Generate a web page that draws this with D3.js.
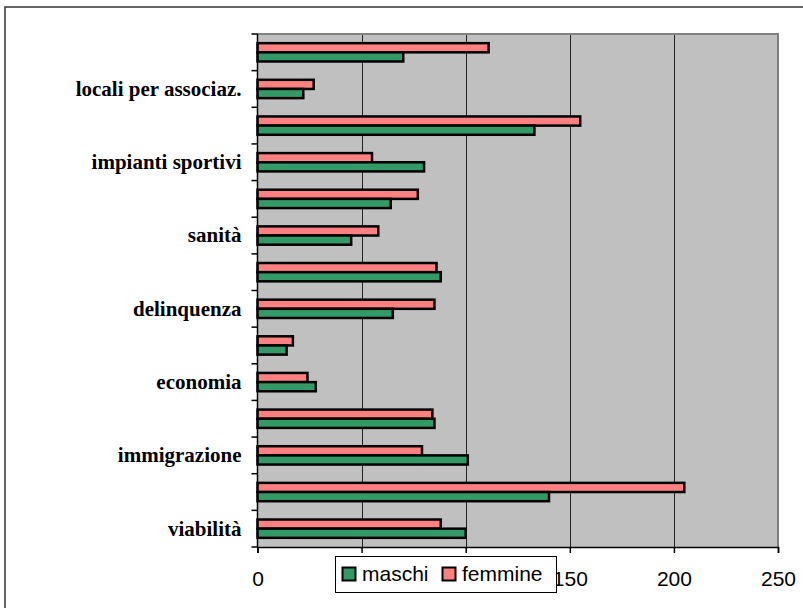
<!DOCTYPE html>
<html>
<head>
<meta charset="utf-8">
<script src="https://cdn.jsdelivr.net/npm/d3@7"></script>
<style>
  html, body { margin: 0; padding: 0; background: #fff; }
  svg { display: block; }
</style>
</head>
<body>
<script>
// Categories listed from bottom to top (Excel order); unlabeled categories have no visible name
const categories = ["viabilità", "", "immigrazione", "", "economia", "", "delinquenza", "", "sanità", "", "impianti sportivi", "", "locali per associaz.", ""];
const maschi  = [100, 140, 101, 85, 28, 14, 65, 88, 45, 64, 80, 133, 22, 70];
const femmine = [88, 205, 79, 84, 24, 17, 85, 86, 58, 77, 55, 155, 27, 111];
const seriesNames = ["maschi", "femmine"];
const seriesColors = ["#339966", "#ff8080"];
const xTicks = [0, 50, 100, 150, 200, 250];

const W = 803, H = 608;
const plot = { left: 257.5, right: 778, top: 34, bottom: 547 };
const legendBox = { x: 335.5, y: 556.5, w: 221, h: 36 };

const svg = d3.select("body").append("svg").attr("width", W).attr("height", H);

// outer chart frame
svg.append("rect").attr("x", 5).attr("y", 7).attr("width", W + 20).attr("height", H + 20)
  .attr("fill", "#fff").attr("stroke", "#333").attr("stroke-width", 1.5);

const x = d3.scaleLinear().domain([0, 250]).range([plot.left, plot.right]);
const idx = d3.range(categories.length);
const y = d3.scaleBand().domain(idx.slice().reverse()).range([plot.top, plot.bottom]).paddingInner(0).paddingOuter(0);
const bw = y.bandwidth();
const barH = bw * 0.25;

// plot background
svg.append("rect").attr("x", plot.left).attr("y", plot.top)
  .attr("width", plot.right - plot.left).attr("height", plot.bottom - plot.top)
  .attr("fill", "#c0c0c0");

// gridlines
svg.append("g").selectAll("line").data(xTicks.slice(1, -1)).join("line")
  .attr("x1", d => Math.round(x(d)) + 0.5).attr("x2", d => Math.round(x(d)) + 0.5)
  .attr("y1", plot.top).attr("y2", plot.bottom)
  .attr("stroke", "#222").attr("stroke-width", 1);

// plot border (top/right gray)
svg.append("path")
  .attr("d", `M${plot.left},${plot.top}H${plot.right}V${plot.bottom}`)
  .attr("fill", "none").attr("stroke", "#808080").attr("stroke-width", 2);

// bars
const rows = idx.map(i => ({ i, m: maschi[i], f: femmine[i] }));
const g = svg.append("g");
const center = i => y(i) + bw / 2;
g.selectAll("rect.f").data(rows).join("rect").attr("class", "f")
  .attr("x", x(0)).attr("y", d => center(d.i) - barH)
  .attr("width", d => x(d.f) - x(0)).attr("height", barH)
  .attr("fill", seriesColors[1]).attr("stroke", "#000").attr("stroke-width", 2.5);
g.selectAll("rect.m").data(rows).join("rect").attr("class", "m")
  .attr("x", x(0)).attr("y", d => center(d.i))
  .attr("width", d => x(d.m) - x(0)).attr("height", barH)
  .attr("fill", seriesColors[0]).attr("stroke", "#000").attr("stroke-width", 2.5);

// y axis line and boundary ticks
const yAxisG = svg.append("g");
yAxisG.append("line").attr("x1", plot.left).attr("x2", plot.left)
  .attr("y1", plot.top).attr("y2", plot.bottom).attr("stroke", "#000").attr("stroke-width", 1.5);
const bounds = idx.map(i => y(i)).concat([plot.bottom]);
yAxisG.selectAll("line.tk").data(bounds).join("line").attr("class", "tk")
  .attr("x1", plot.left - 6).attr("x2", plot.left)
  .attr("y1", d => d).attr("y2", d => d).attr("stroke", "#000").attr("stroke-width", 1.5);

// category labels via axis
const yAxis = d3.axisLeft(y).tickSize(0).tickPadding(16).tickFormat(i => categories[i]);
const yl = svg.append("g").attr("transform", `translate(${plot.left},0)`).call(yAxis);
yl.select(".domain").remove();
yl.selectAll("text")
  .attr("font-family", "'Liberation Serif', 'Times New Roman', serif")
  .attr("font-weight", "bold").attr("font-size", 21).attr("fill", "#000")
  .attr("dy", "0.33em");

// x axis (labels hidden behind the legend box are not drawn, as in the reference)
const hidden = d => x(d) > legendBox.x && x(d) < legendBox.x + legendBox.w;
const xAxis = d3.axisBottom(x).tickValues(xTicks).tickSize(6).tickPadding(18)
  .tickFormat(d => hidden(d) ? "" : d3.format("d")(d));
const xg = svg.append("g").attr("transform", `translate(0,${plot.bottom})`).call(xAxis);
xg.select(".domain").attr("stroke", "#000").attr("stroke-width", 1.5);
xg.selectAll(".tick line").attr("stroke", "#000").attr("stroke-width", 1.5);
xg.selectAll("text").attr("font-family", "'Liberation Sans', Arial, sans-serif")
  .attr("font-size", 21).attr("fill", "#000");

// legend
const lg = svg.append("g");
lg.append("rect").attr("x", legendBox.x).attr("y", legendBox.y).attr("width", legendBox.w).attr("height", legendBox.h)
  .attr("fill", "#fff").attr("stroke", "#000").attr("stroke-width", 1);
const legItems = [
  { name: seriesNames[0], color: seriesColors[0], sx: 342.5, tx: 362 },
  { name: seriesNames[1], color: seriesColors[1], sx: 442.5, tx: 462 }
];
lg.selectAll("rect.sw").data(legItems).join("rect").attr("class", "sw")
  .attr("x", d => d.sx).attr("y", 567.5).attr("width", 13).attr("height", 13)
  .attr("fill", d => d.color).attr("stroke", "#000").attr("stroke-width", 2);
lg.selectAll("text").data(legItems).join("text")
  .attr("x", d => d.tx).attr("y", 581)
  .attr("font-family", "'Liberation Sans', Arial, sans-serif").attr("font-size", 21)
  .attr("fill", "#000").text(d => d.name);
</script>
</body>
</html>
